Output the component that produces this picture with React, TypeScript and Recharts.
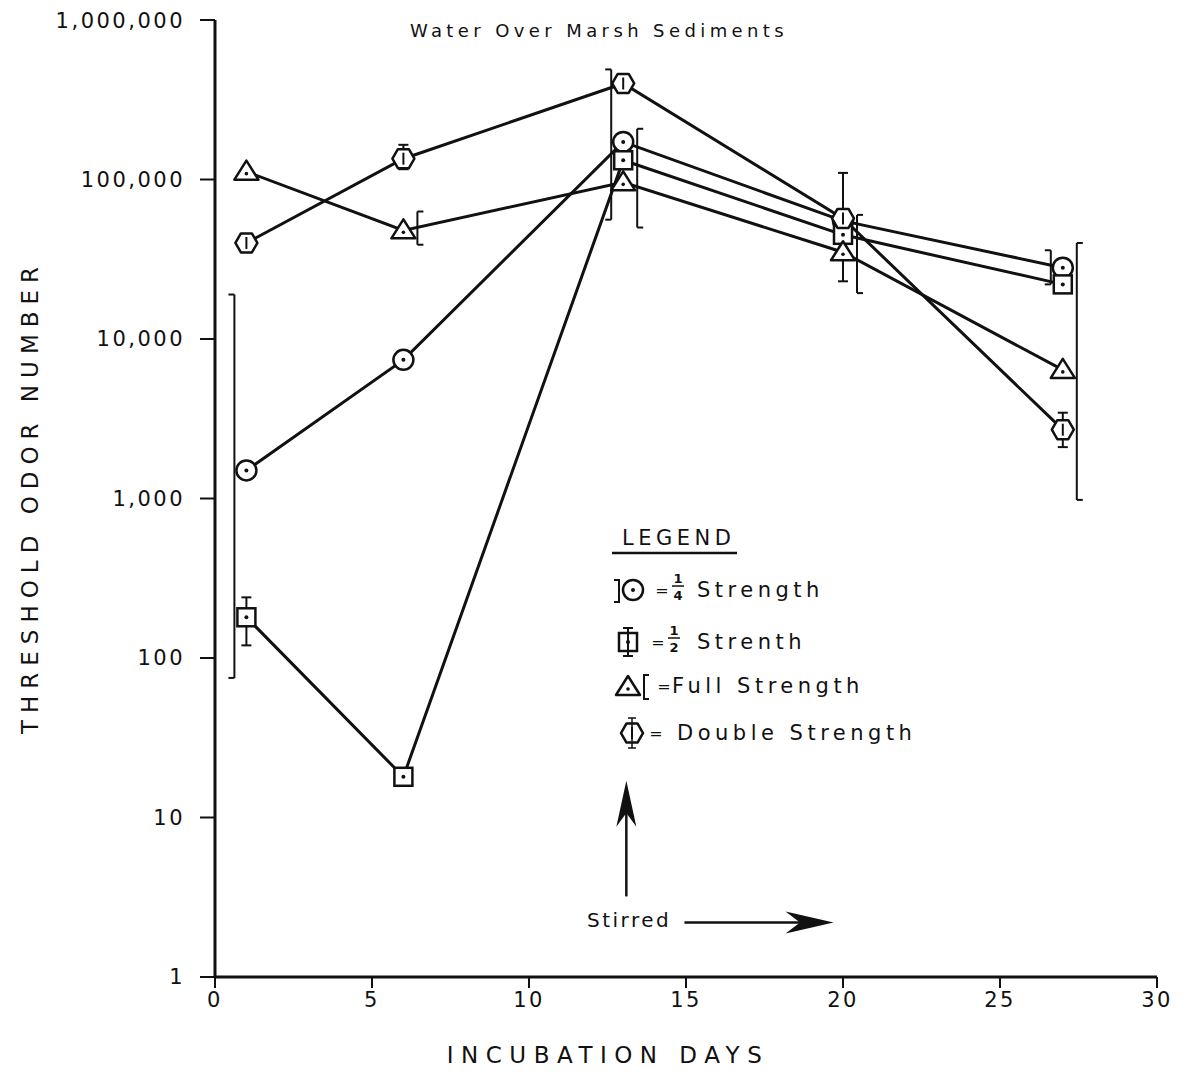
import React from "react";
import {
  ComposedChart,
  Line,
  XAxis,
  YAxis,
  ReferenceLine,
} from "recharts";

// incubation days sampled
const days = [1, 6, 13, 20, 27];

// threshold odor number per dilution
const quarterStrength = [1500, 7400, 172000, 55000, 28000];
const halfStrength = [180, 18, 132000, 45000, 22000];
const fullStrength = [112000, 48000, 96000, 35000, 6400];
const doubleStrength = [40000, 135000, 400000, 57000, 2700];

// observed ranges (low, high); null where none was plotted
type Range = [number, number] | null;
const quarterRange: Range[] = [[75, 19000], null, [56000, 490000], null, [22000, 36000]];
const halfRange: Range[] = [[120, 240], null, null, null, null];
const fullRange: Range[] = [null, [39000, 63000], [50000, 208000], [19400, 60000], [980, 40000]];
const doubleRange: Range[] = [null, [116000, 165000], null, [23000, 110000], [2100, 3450]];

const xTicks = [0, 5, 10, 15, 20, 25, 30];
const yTicks = [1, 10, 100, 1000, 10000, 100000, 1000000];

const INK = "#111";
const FONT = "'DejaVu Sans', sans-serif";

const data = days.map((day, i) => ({
  day,
  quarter: quarterStrength[i],
  half: halfStrength[i],
  full: fullStrength[i],
  double: doubleStrength[i],
}));

type DotProps = { cx?: number; cy?: number };

function Ring({ cx = 0, cy = 0 }: DotProps) {
  return (
    <g>
      <circle cx={cx} cy={cy} r={10} fill="#fff" stroke={INK} strokeWidth={2.5} />
      <circle cx={cx} cy={cy} r={2} fill={INK} />
    </g>
  );
}

function Box({ cx = 0, cy = 0 }: DotProps) {
  return (
    <g>
      <rect x={cx - 9} y={cy - 9} width={18} height={18} fill="#fff" stroke={INK} strokeWidth={2.5} />
      <circle cx={cx} cy={cy} r={2} fill={INK} />
    </g>
  );
}

function Tri({ cx = 0, cy = 0 }: DotProps) {
  const pts = `${cx},${cy - 11} ${cx - 12},${cy + 8} ${cx + 12},${cy + 8}`;
  return (
    <g>
      <polygon points={pts} fill="#fff" stroke={INK} strokeWidth={2.5} strokeLinejoin="round" />
      <circle cx={cx} cy={cy + 2} r={1.8} fill={INK} />
    </g>
  );
}

function Hex({ cx = 0, cy = 0 }: DotProps) {
  const r = 11;
  const pts = [0, 60, 120, 180, 240, 300]
    .map((a) => {
      const t = (a * Math.PI) / 180;
      return `${cx + r * Math.cos(t)},${cy + r * Math.sin(t)}`;
    })
    .join(" ");
  return (
    <g>
      <polygon points={pts} fill="#fff" stroke={INK} strokeWidth={2.5} strokeLinejoin="round" />
      <line x1={cx} y1={cy - 6} x2={cx} y2={cy + 6} stroke={INK} strokeWidth={2} />
    </g>
  );
}

type Kind = "left" | "right" | "center";

// bracket / capped bar drawn from a vertical segment
function rangeShape(kind: Kind) {
  return (p: any) => {
    const { x1, y1, y2 } = p;
    const sw = 2;
    if (kind === "center") {
      return (
        <g>
          <line x1={x1} y1={y1} x2={x1} y2={y2} stroke={INK} strokeWidth={sw} />
          <line x1={x1 - 5} y1={y1} x2={x1 + 5} y2={y1} stroke={INK} strokeWidth={sw} />
          <line x1={x1 - 5} y1={y2} x2={x1 + 5} y2={y2} stroke={INK} strokeWidth={sw} />
        </g>
      );
    }
    const dx = kind === "left" ? -12 : 14;
    const tick = kind === "left" ? -6 : 6;
    const x = x1 + dx;
    return (
      <g>
        <line x1={x} y1={y1} x2={x} y2={y2} stroke={INK} strokeWidth={sw} />
        <line x1={x} y1={y1} x2={x + tick} y2={y1} stroke={INK} strokeWidth={sw} />
        <line x1={x} y1={y2} x2={x + tick} y2={y2} stroke={INK} strokeWidth={sw} />
      </g>
    );
  };
}

function arrowShape(len: number, half: number) {
  return (p: any) => {
    const { x1, y1, x2, y2 } = p;
    const d = Math.hypot(x2 - x1, y2 - y1) || 1;
    const ux = (x2 - x1) / d;
    const uy = (y2 - y1) / d;
    const bx = x2 - ux * len;
    const by = y2 - uy * len;
    const nx = x2 - ux * len * 0.7;
    const ny = y2 - uy * len * 0.7;
    const head = `${x2},${y2} ${bx - uy * half},${by + ux * half} ${nx},${ny} ${bx + uy * half},${by - ux * half}`;
    return (
      <g>
        <line x1={x1} y1={y1} x2={nx} y2={ny} stroke={INK} strokeWidth={2.5} />
        <polygon points={head} fill={INK} />
      </g>
    );
  };
}

const ranges: { name: string; list: Range[]; kind: Kind }[] = [
  { name: "quarter", list: quarterRange, kind: "left" },
  { name: "half", list: halfRange, kind: "center" },
  { name: "full", list: fullRange, kind: "right" },
  { name: "double", list: doubleRange, kind: "center" },
];

const tickStyle = { fill: INK, fontSize: 21, fontFamily: FONT, letterSpacing: 2.5 };

function Legend() {
  const txt = { fontFamily: FONT, fontSize: 21, letterSpacing: 4.5, fill: INK };
  const eq = { fontFamily: FONT, fontSize: 16, fill: INK };
  const frac = { fontFamily: FONT, fontSize: 13, fontWeight: 700, fill: INK };
  return (
    <g>
      <text x={614} y={530} {...txt} dominantBaseline="central">LEGEND</text>
      <line x1={604} y1={545} x2={729} y2={545} stroke={INK} strokeWidth={2.5} />

      {/* 1/4 */}
      <path d="M606,572 h5 v22 h-5" fill="none" stroke={INK} strokeWidth={2} />
      <Ring cx={625} cy={582} />
      <text x={654} y={582} {...eq} textAnchor="middle" dominantBaseline="central">=</text>
      <text x={670} y={575} {...frac} textAnchor="middle">1</text>
      <line x1={664} y1={578} x2={676} y2={578} stroke={INK} strokeWidth={1.5} />
      <text x={670} y={592} {...frac} textAnchor="middle">4</text>
      <text x={689} y={582} {...txt} dominantBaseline="central">Strength</text>

      {/* 1/2 */}
      <Box cx={620} cy={634} />
      <line x1={620} y1={620} x2={620} y2={648} stroke={INK} strokeWidth={2} />
      <line x1={615} y1={620} x2={625} y2={620} stroke={INK} strokeWidth={2} />
      <line x1={615} y1={648} x2={625} y2={648} stroke={INK} strokeWidth={2} />
      <text x={650} y={634} {...eq} textAnchor="middle" dominantBaseline="central">=</text>
      <text x={666} y={627} {...frac} textAnchor="middle">1</text>
      <line x1={660} y1={630} x2={672} y2={630} stroke={INK} strokeWidth={1.5} />
      <text x={666} y={644} {...frac} textAnchor="middle">2</text>
      <text x={689} y={634} {...txt} dominantBaseline="central">Strenth</text>

      {/* full */}
      <Tri cx={620} cy={679} />
      <path d="M641,667 h-5 v24 h5" fill="none" stroke={INK} strokeWidth={2} />
      <text x={656} y={678} {...eq} textAnchor="middle" dominantBaseline="central">=</text>
      <text x={664} y={678} {...txt} dominantBaseline="central">Full  Strength</text>

      {/* double */}
      <Hex cx={624} cy={725} />
      <line x1={624} y1={710} x2={624} y2={740} stroke={INK} strokeWidth={1.5} />
      <line x1={620} y1={710} x2={628} y2={710} stroke={INK} strokeWidth={1.5} />
      <line x1={620} y1={740} x2={628} y2={740} stroke={INK} strokeWidth={1.5} />
      <text x={648} y={725} {...eq} textAnchor="middle" dominantBaseline="central">=</text>
      <text x={669} y={725} {...txt} dominantBaseline="central">Double  Strength</text>
    </g>
  );
}

export default function App() {
  return (
    <div style={{ position: "relative", width: 1180, height: 1072, background: "#fff", fontFamily: FONT }}>
      <ComposedChart
        width={1180}
        height={1072}
        data={data}
        margin={{ top: 12, right: 31, bottom: 63, left: 7 }}
      >
        <XAxis
          dataKey="day"
          type="number"
          domain={[0, 30]}
          ticks={xTicks}
          allowDataOverflow
          height={40}
          tickSize={11}
          tickMargin={4}
          tick={tickStyle}
          axisLine={{ stroke: INK, strokeWidth: 3 }}
          tickLine={{ stroke: INK, strokeWidth: 2 }}
        />
        <YAxis
          scale="log"
          domain={[1, 1000000]}
          ticks={yTicks}
          allowDataOverflow
          width={200}
          tickSize={15}
          tickMargin={15}
          tick={tickStyle}
          tickFormatter={(v: number) => v.toLocaleString("en-US")}
          axisLine={{ stroke: INK, strokeWidth: 3 }}
          tickLine={{ stroke: INK, strokeWidth: 2 }}
        />

        <Line dataKey="quarter" stroke={INK} strokeWidth={3} isAnimationActive={false}
          dot={(p: any) => <Ring key={`q${p.index}`} cx={p.cx} cy={p.cy} />} activeDot={false} />
        <Line dataKey="half" stroke={INK} strokeWidth={3} isAnimationActive={false}
          dot={(p: any) => <Box key={`h${p.index}`} cx={p.cx} cy={p.cy} />} activeDot={false} />
        <Line dataKey="full" stroke={INK} strokeWidth={3} isAnimationActive={false}
          dot={(p: any) => <Tri key={`f${p.index}`} cx={p.cx} cy={p.cy} />} activeDot={false} />
        <Line dataKey="double" stroke={INK} strokeWidth={3} isAnimationActive={false}
          dot={(p: any) => <Hex key={`d${p.index}`} cx={p.cx} cy={p.cy} />} activeDot={false} />

        {ranges.flatMap(({ name, list, kind }) =>
          list.map((r, i) =>
            r ? (
              <ReferenceLine
                key={`${name}-${i}`}
                segment={[{ x: days[i], y: r[0] }, { x: days[i], y: r[1] }]}
                shape={rangeShape(kind)}
                ifOverflow="visible"
              />
            ) : null
          )
        )}

        {/* "Stirred" markers */}
        <ReferenceLine segment={[{ x: 13.1, y: 3.2 }, { x: 13.1, y: 17 }]} shape={arrowShape(46, 10)} ifOverflow="visible" />
        <ReferenceLine segment={[{ x: 14.95, y: 2.2 }, { x: 19.7, y: 2.2 }]} shape={arrowShape(48, 11)} ifOverflow="visible" />
      </ComposedChart>

      <svg width={1180} height={1072} style={{ position: "absolute", left: 0, top: 0, pointerEvents: "none" }}>
        <text x={591} y={22} textAnchor="middle" dominantBaseline="central"
          fontFamily={FONT} fontSize={18} letterSpacing={4.4} fill={INK}>
          Water Over Marsh Sediments
        </text>
        <text x={22} y={489} textAnchor="middle" dominantBaseline="central" transform="rotate(-90 22 489)"
          fontFamily={FONT} fontSize={23} letterSpacing={7} fill={INK}>
          THRESHOLD ODOR NUMBER
        </text>
        <text x={600} y={1047} textAnchor="middle" dominantBaseline="central"
          fontFamily={FONT} fontSize={23} letterSpacing={7.5} fill={INK}>
          INCUBATION DAYS
        </text>
        <text x={579} y={912} dominantBaseline="central"
          fontFamily={FONT} fontSize={20} letterSpacing={2.5} fill={INK}>
          Stirred
        </text>
        <Legend />
      </svg>
    </div>
  );
}
